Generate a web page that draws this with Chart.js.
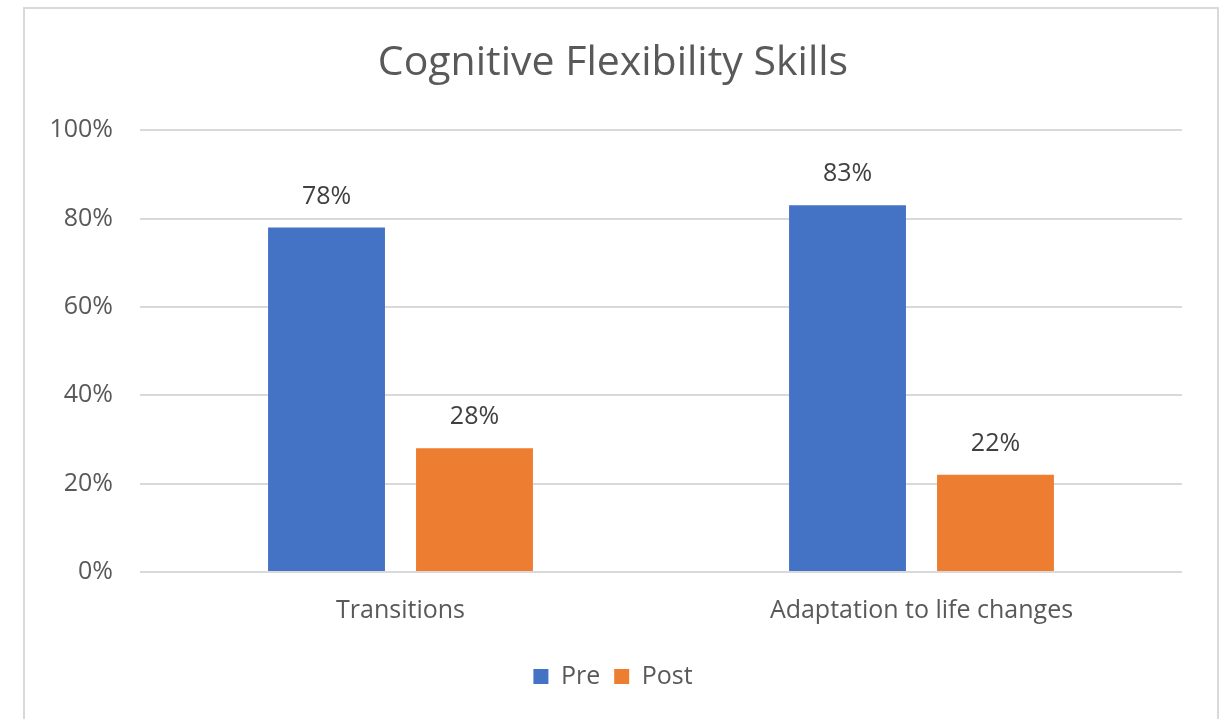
<!DOCTYPE html>
<html>
<head>
<meta charset="utf-8">
<script src="https://cdn.jsdelivr.net/npm/chart.js@4.4.0/dist/chart.umd.min.js"></script>
<style>
  html, body { margin: 0; padding: 0; background: #fff; overflow: hidden; }
  #wrap { position: absolute; left: 0; top: 0; width: 1228px; height: 719px; }
  #frame { position: absolute; left: 23px; top: 7px; width: 1196px; height: 760px; border: 2px solid #d9d9d9; box-sizing: border-box; pointer-events: none; }
</style>
</head>
<body>
<div id="wrap">
  <canvas id="c" width="1228" height="719"></canvas>
  <div id="frame"></div>
</div>
<script>
const categories = ["Transitions", "Adaptation to life changes"];
const preValues = [78, 83];
const postValues = [28, 22];
const seriesNames = ["Pre", "Post"];
const yTicks = [0, 20, 40, 60, 80, 100];

const FONT = "'Open Sans', sans-serif";

const valueLabels = {
  id: 'valueLabels',
  afterDatasetsDraw(chart) {
    const ctx = chart.ctx;
    ctx.save();
    ctx.font = "25px " + FONT;
    ctx.fillStyle = "#404040";
    ctx.textAlign = "center";
    ctx.textBaseline = "middle";
    chart.data.datasets.forEach((ds, i) => {
      const meta = chart.getDatasetMeta(i);
      meta.data.forEach((bar, j) => {
        ctx.fillText(ds.data[j] + "%", bar.x, bar.y - 31);
      });
    });
    ctx.restore();
  }
};

new Chart(document.getElementById('c'), {
  type: 'bar',
  data: {
    labels: categories,
    datasets: [
      { label: seriesNames[0], data: preValues, backgroundColor: "#4472C4", categoryPercentage: 0.568, barPercentage: 0.79 },
      { label: seriesNames[1], data: postValues, backgroundColor: "#ED7D31", categoryPercentage: 0.568, barPercentage: 0.79 }
    ]
  },
  options: {
    responsive: false,
    animation: false,
    layout: { padding: { left: 44, right: 46, top: 0, bottom: 20 } },
    plugins: {
      title: {
        display: true,
        text: "Cognitive Flexibility Skills",
        color: "#595959",
        font: { family: FONT, size: 41, weight: 'normal' },
        padding: { top: 39, bottom: 42 }
      },
      legend: {
        position: 'bottom',
        labels: {
          color: "#595959",
          font: { family: FONT, size: 25 },
          boxWidth: 15,
          boxHeight: 15,
          padding: 14
        }
      },
      tooltip: { enabled: false }
    },
    scales: {
      x: {
        grid: { display: false, drawTicks: false },
        border: { display: false },
        ticks: { color: "#595959", font: { family: FONT, size: 25 }, padding: 24 }
      },
      y: {
        min: 0, max: 100,
        afterFit(scale) { scale.width = 96; },
        afterBuildTicks(scale) { scale.ticks = yTicks.map(v => ({ value: v })); },
        grid: { color: "#d9d9d9", lineWidth: 2, drawTicks: false },
        border: { display: false },
        ticks: { color: "#595959", font: { family: FONT, size: 25 }, padding: 27, callback: v => v + "%" }
      }
    }
  },
  plugins: [valueLabels]
});
</script>
</body>
</html>
